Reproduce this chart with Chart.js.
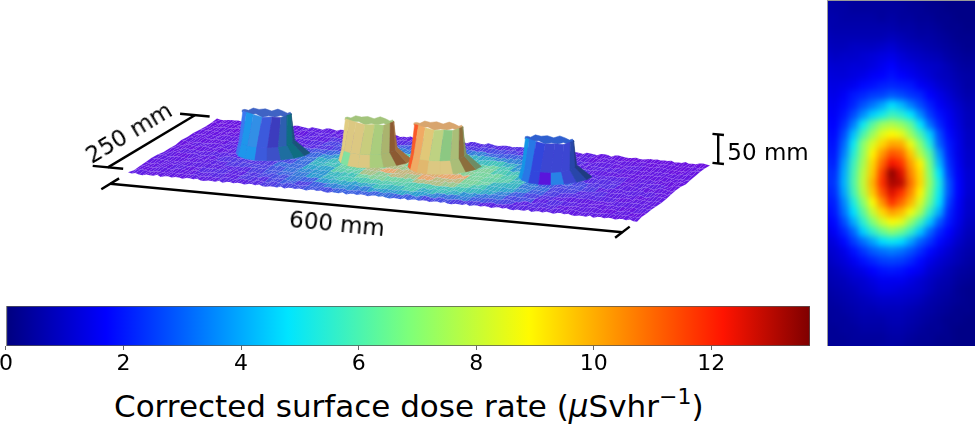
<!DOCTYPE html>
<html>
<head>
<meta charset="utf-8">
<script src="https://cdn.jsdelivr.net/npm/chart.js@4"></script>
<style>
  html, body { margin: 0; background: #fff; }
  #page { position: relative; width: 977px; height: 425px; overflow: hidden; font-family: "DejaVu Sans", sans-serif; color: #000; }
  canvas { position: absolute; display: block; }
  #heatBox { position: absolute; left: 827px; top: 0; width: 148px; height: 346px; overflow: hidden; border-left: 1px solid #999; border-top: 1px solid #999; box-sizing: border-box; }
  #heat { left: -20px; top: -20px; filter: blur(3.4px); }
  .note { position: absolute; white-space: nowrap; font-size: 23px; line-height: 1; transform: translate(-50%, -50%) rotate(var(--turn, 0deg)); }
  #title { position: absolute; left: 114px; top: 386px; font-size: 31px; line-height: 40px; white-space: nowrap; }
  #title sup { font-size: 22px; line-height: 0; vertical-align: 13px; }
</style>
</head>
<body>
<div id="page">
  <canvas id="surface" width="820" height="295" style="left:0;top:0"></canvas>
  <div class="note" style="left:129px;top:133px;--turn:-31deg">250 mm</div>
  <div class="note" style="left:337px;top:224px;--turn:5.5deg">600 mm</div>
  <div class="note" style="left:768px;top:152px">50 mm</div>
  <canvas id="colourbar" width="820" height="76" style="left:-2px;top:300px"></canvas>
  <div id="title">Corrected surface dose rate (<i>μ</i>Svhr<sup>−1</sup>)</div>
  <div id="heatBox"><canvas id="heat" width="187" height="385"></canvas></div>
</div>

<script>
// data ------------------------------------------------------------------

const colourbarTicks = [0, 2, 4, 6, 8, 10, 12];
const maxDose = 13.68;

// dose rate map, 35 rows along the 600 mm side, 15 columns along the 250 mm side
const doseRows = [
  [.5, .5, .4, .4, .4, .4, .4, .4, .3, .3, .2, .2, .1, .1, .1],
  [.6, .5, .5, .5, .5, .4, .5, .4, .4, .3, .3, .2, .2, .1, .1],
  [.6, .6, .6, .6, .6, .6, .6, .5, .5, .4, .4, .3, .2, .2, .1],
  [.7, .7, .7, .7, .7, .7, .8, .7, .6, .5, .5, .4, .3, .2, .2],
  [.8, .8, .9, .9, .9, 1, 1.1, .9, .8, .7, .6, .5, .4, .3, .2],
  [.9, 1, 1, 1.1, 1.2, 1.3, 1.4, 1.2, 1, .9, .8, .7, .5, .4, .3],
  [1.1, 1.1, 1.2, 1.2, 1.3, 1.5, 1.7, 1.4, 1.3, 1.1, 1, .9, .7, .5, .4],
  [1.2, 1.2, 1.3, 1.4, 1.6, 1.7, 1.9, 1.7, 1.5, 1.3, 1.1, .9, .8, .6, .5],
  [1.3, 1.4, 1.5, 1.8, 1.9, 2.1, 2.2, 2.1, 2, 1.6, 1.4, 1.1, .9, .7, .5],
  [1.4, 1.6, 2, 2.2, 2.5, 2.6, 2.9, 2.7, 2.4, 2.2, 1.7, 1.4, 1.1, .8, .6],
  [1.5, 1.8, 2.2, 2.8, 3.3, 3.9, 4.7, 4.2, 3.4, 2.7, 2.1, 1.6, 1.3, 1, .7],
  [1.6, 2, 2.7, 3.6, 4.5, 5.1, 5.8, 5.5, 4.8, 3.6, 2.5, 1.9, 1.5, 1.1, .8],
  [1.7, 2.3, 3.4, 5, 6.3, 7.3, 7.6, 7.2, 6.4, 4.8, 3.2, 2.2, 1.6, 1.2, .8],
  [1.8, 2.7, 4.3, 6, 7.3, 8.4, 8.9, 8.5, 7.3, 6, 4.5, 2.7, 1.8, 1.3, .9],
  [1.9, 3.1, 5, 7, 8.3, 9.4, 10.1, 10, 8.6, 7, 5.3, 3, 2, 1.4, .9],
  [2, 3.4, 5.4, 7.2, 9, 10.3, 11.3, 11, 9.6, 7.7, 6.2, 3.7, 2.1, 1.4, 1],
  [2.1, 3.8, 5.8, 7.5, 9.4, 11, 12.3, 11.8, 10.2, 9, 6.7, 4.2, 2.3, 1.5, 1],
  [2.3, 4, 6, 7.8, 9.6, 11.6, 13.5, 12.6, 10.6, 9.3, 7, 4.8, 2.5, 1.6, 1.1],
  [2.4, 4.1, 6.1, 7.9, 9.9, 11.8, 13.2, 13, 10.9, 9.4, 7.2, 5.2, 2.8, 1.7, 1.1],
  [2.3, 3.9, 5.9, 7.7, 9.6, 11.3, 12.6, 11.8, 10.5, 9, 6.9, 5, 2.8, 1.7, 1.1],
  [2.1, 3.5, 5.3, 7, 8.8, 10.4, 11.8, 11, 9.9, 8.3, 6.5, 4.7, 2.5, 1.6, 1],
  [2, 3.2, 4.7, 6.3, 8, 9.4, 10.2, 9.8, 8.7, 7.5, 5.6, 4, 2.2, 1.5, 1],
  [1.8, 2.7, 4, 5.5, 6.9, 8.1, 8.8, 8.5, 7.2, 5.9, 4.4, 2.9, 2, 1.4, .9],
  [1.6, 2.2, 3.1, 4.5, 5.6, 6.5, 7.1, 6.6, 5.7, 4.4, 3.1, 2.2, 1.7, 1.2, .8],
  [1.3, 1.8, 2.5, 3.2, 3.9, 4.7, 5, 4.7, 3.9, 3, 2.4, 1.8, 1.4, 1, .7],
  [1.1, 1.4, 1.9, 2.4, 2.9, 3.2, 3.4, 3.2, 2.8, 2.3, 1.8, 1.4, 1.1, .8, .6],
  [1, 1.2, 1.5, 1.9, 2.2, 2.5, 2.6, 2.5, 2.2, 1.8, 1.4, 1.1, .9, .7, .5],
  [.8, 1, 1.2, 1.4, 1.7, 1.9, 2, 1.9, 1.7, 1.5, 1.1, .9, .7, .5, .4],
  [.7, .8, 1, 1.1, 1.3, 1.5, 1.5, 1.5, 1.3, 1.1, .9, .7, .6, .4, .3],
  [.6, .7, .8, 1, 1.1, 1.3, 1.3, 1.2, 1.1, 1, .8, .6, .5, .3, .2],
  [.5, .6, .7, .8, .9, 1, 1, 1, .9, .8, .6, .5, .4, .3, .2],
  [.4, .5, .6, .7, .7, .8, .8, .8, .7, .6, .5, .4, .3, .2, .2],
  [.4, .4, .5, .6, .6, .6, .7, .7, .6, .5, .4, .3, .2, .2, .1],
  [.3, .4, .4, .5, .5, .5, .6, .6, .5, .4, .3, .3, .2, .1, .1],
  [.3, .3, .4, .4, .4, .4, .5, .5, .4, .3, .3, .2, .2, .1, .1],
];

// the four blocks on the surface, in mm
const blockAlong = [109, 228, 311, 444];
const blockAcross = [135, 145, 145, 145];
const blockHeight = [68, 67, 69, 63];
const rimRipple = [1.5, -1, 2, -1.5, .5, 2.5, -2, 1, -.5, 2, -1.5, 1];
const surfaceRipple = [1.2, -.8, .5, -1.4, .9, -.3, 1.6, -1.1, .2, -.6, 1.3, -1.5, .7, -.2, 1, -.9, .4];

// colours ---------------------------------------------------------------

const jetValues = [0, 1.7, 4.8, 6.85, 8.9, 12.2, 13.68];
const jetColours = [[0, 0, 127], [0, 0, 255], [0, 229, 255], [125, 255, 122], [255, 250, 0], [255, 20, 0], [127, 0, 0]];
const surfaceValues = [0, 1, 2.2, 4, 6.5, 9, 12.5];
const surfaceColours = [[106, 16, 224], [92, 36, 228], [62, 96, 226], [44, 160, 208], [70, 200, 184], [120, 216, 160], [232, 170, 110]];

const blockCaps = ["#3f63c4", "#a3c47c", "#d8a56e", "#2f5fcf"];
const blockWalls = [
  ["#3c78f0", "#1e96eb", "#328fe6", "#3c5adc", "#3c3cbe", "#2d5fb0", "#0f6e82", "#19557a"],
  ["#e1cd82", "#dcc882", "#dcc882", "#c8cd7d", "#aacd7d", "#aab46e", "#8c5a32", "#a06e3c"],
  ["#fa5a28", "#f0aa64", "#e1c878", "#bed282", "#8cc882", "#aabe78", "#8c6e3c", "#829660"],
  ["#1496e6", "#2878e6", "#3246dc", "#3c46d2", "#3c46d2", "#3c46d2", "#2846aa", "#1e3c82"],
];
const blockFeet = [
  ["#3c78f0", "#1e96eb", "#1e96eb", "#3c5adc", "#3c50c8", "#1e6ea0", "#0f6e82", "#19557a"],
  ["#e1cd82", "#82e1a0", "#dcc882", "#dcc882", "#aacd7d", "#aab46e", "#8c5a32", "#a06e3c"],
  ["#fa5a28", "#f0aa64", "#e1b86e", "#dcc882", "#dcc882", "#aabe78", "#8c6e3c", "#6e8c64"],
  ["#1496e6", "#2878e6", "#3246dc", "#5a14dc", "#2882e6", "#3c46d2", "#2846aa", "#1e3c82"],
];

// helpers ---------------------------------------------------------------

function shade(values, colours, v) {
  let i = 0;
  while (i < values.length - 2 && v > values[i + 1]) i++;
  const t = Math.min(1, Math.max(0, (v - values[i]) / (values[i + 1] - values[i])));
  const c = colours[i].map((a, k) => Math.round(a + (colours[i + 1][k] - a) * t));
  return "rgb(" + c.join(",") + ")";
}

// corners of the 600 x 250 mm plate as they sit in the picture
const FL = [128, 173], FR = [637, 221], BL = [217, 119], BR = [710, 165];
const Z_SCALE = 0.58;

function project(along, across, z) {
  const u = along / 600, v = across / 250;
  const blend = (k) => (1 - u) * (1 - v) * FL[k] + u * (1 - v) * FR[k] + (1 - u) * v * BL[k] + u * v * BR[k];
  return { x: blend(0), y: blend(1) - z * Z_SCALE };
}

function polygon(points, colour, edge, edgeWidth) {
  return {
    data: points.concat(points[0]),
    showLine: true,
    fill: "shape",
    backgroundColor: colour,
    borderColor: edge || colour,
    borderWidth: edgeWidth === undefined ? 0.5 : edgeWidth,
    pointRadius: 0,
  };
}

function guide(a, b) {
  return { data: [a, b], showLine: true, fill: false, borderColor: "#000", borderWidth: 2.4, pointRadius: 0 };
}

// surface ---------------------------------------------------------------

const SPLIT = 4;
const paint = [];

function ripple(i, j) {
  return surfaceRipple[(i * 5 + j * 11 + (i * j) % 7) % surfaceRipple.length];
}

for (let j = doseRows[0].length - 1; j >= 0; j--) {
  for (let i = 0; i < doseRows.length * SPLIT; i++) {
    const row = Math.floor(i / SPLIT);
    const stepU = 600 / (doseRows.length * SPLIT), stepV = 250 / doseRows[0].length;
    // patchy colour, the plate in the picture is blocky and not a clean gradient
    const patch = ripple(row * 3, j) * (0.12 + doseRows[row][j] * 0.08);
    const c = shade(surfaceValues, surfaceColours, doseRows[row][j] + patch);
    paint.push(polygon([
      project(i * stepU, j * stepV, ripple(i, j)),
      project((i + 1) * stepU, j * stepV, ripple(i + 1, j)),
      project((i + 1) * stepU, (j + 1) * stepV, ripple(i + 1, j + 1)),
      project(i * stepU, (j + 1) * stepV, ripple(i, j + 1)),
    ], c, "rgba(205,180,255,0.1)", 0.6));
  }
}

blockAlong.forEach((along, b) => {
  const across = blockAcross[b], h = blockHeight[b], walls = blockWalls[b], feet = blockFeet[b];
  const ring = (rAlong, rAcross, z, a, bump) => {
    const t = a * Math.PI / 180;
    return project(along + rAlong * Math.cos(t), across + rAcross * Math.sin(t), z + (bump || 0));
  };
  const cap = [];
  for (let k = 0; k < 24; k++) cap.push(ring(29, 14, h, k * 15, rimRipple[k % rimRipple.length]));
  paint.push(polygon(cap, blockCaps[b]));
  const from = 203, step = 180 / walls.length;
  // the foot runs out further on the right hand side of each block
  const footR = (k) => 34 + 16 * Math.pow(k / walls.length, 3);
  walls.forEach((colour, k) => {
    const a0 = from + k * step, a1 = a0 + step;
    const bump0 = rimRipple[k * 2 % rimRipple.length], bump1 = rimRipple[(k + 1) * 2 % rimRipple.length];
    paint.push(polygon([
      ring(footR(k), 36, 0, a0), ring(footR(k + 1), 36, 0, a1),
      ring(31, 30, h * 0.3, a1), ring(31, 30, h * 0.3, a0),
    ], feet[k]));
    paint.push(polygon([
      ring(31, 30, h * 0.3, a0), ring(31, 30, h * 0.3, a1),
      ring(29, 14, h, a1, bump1), ring(29, 14, h, a0, bump0),
    ], colour));
  });
});

// dimension marks
paint.push(guide(project(0, -50, 0), project(600, -50, 0)));
paint.push(guide(project(0, -75, 0), project(0, -25, 0)));
paint.push(guide(project(600, -75, 0), project(600, -25, 0)));
paint.push(guide(project(-30, 15, 0), project(-30, 257, 0)));
paint.push(guide(project(-48, 15, 0), project(-12, 15, 0)));
paint.push(guide(project(-48, 257, 0), project(-12, 257, 0)));
paint.push(guide(project(610, 250, 4), project(610, 250, 54)));
paint.push(guide(project(603, 250, 4), project(617, 250, 4)));
paint.push(guide(project(603, 250, 54), project(617, 250, 54)));

const hidden = { display: false };

new Chart(document.getElementById("surface"), {
  type: "scatter",
  // chart.js paints the first dataset last
  data: { datasets: paint.reverse() },
  options: {
    responsive: false,
    animation: false,
    events: [],
    parsing: false,
    plugins: { legend: hidden, tooltip: { enabled: false } },
    scales: {
      x: { type: "linear", display: false, min: 0, max: 820 },
      y: { type: "linear", display: false, min: 0, max: 295, reverse: true },
    },
  },
});

// colourbar -------------------------------------------------------------

new Chart(document.getElementById("colourbar"), {
  type: "bar",
  data: {
    labels: ["dose"],
    datasets: [{
      data: [maxDose],
      barPercentage: 1,
      categoryPercentage: 1,
      borderWidth: 1,
      borderColor: "#555",
      borderSkipped: false,
      backgroundColor: (ctx) => {
        const area = ctx.chart.chartArea;
        if (!area) return "#000";
        const g = ctx.chart.ctx.createLinearGradient(area.left, 0, area.right, 0);
        jetValues.forEach((v) => g.addColorStop(v / maxDose, shade(jetValues, jetColours, v)));
        return g;
      },
    }],
  },
  options: {
    indexAxis: "y",
    responsive: false,
    animation: false,
    events: [],
    layout: { padding: { left: 7, right: 8, top: 6, bottom: 0 } },
    plugins: { legend: hidden, tooltip: { enabled: false } },
    scales: {
      y: { display: false },
      x: {
        type: "linear",
        min: 0,
        max: maxDose,
        afterBuildTicks: (scale) => { scale.ticks = colourbarTicks.map((value) => ({ value })); },
        afterFit: (scale) => { scale.height = 30; },
        grid: { drawOnChartArea: false, tickLength: 4, color: "#666" },
        border: { display: false },
        ticks: { color: "#000", padding: 1, maxRotation: 0, font: { family: "DejaVu Sans", size: 22 } },
      },
    },
  },
});

// dose map --------------------------------------------------------------

const cells = [];
const cellColours = [];
const edgeSizes = [];
doseRows.forEach((row, r) => row.forEach((dose, c) => {
  cells.push({ x: c + 0.5, y: r + 0.5 });
  cellColours.push(shade(jetValues, jetColours, dose));
  const onEdge = r === 0 || c === 0 || r === doseRows.length - 1 || c === row.length - 1;
  edgeSizes.push(onEdge ? 22 : 0);
}));

new Chart(document.getElementById("heat"), {
  type: "scatter",
  data: {
    datasets: [
      { data: cells, pointStyle: "rect", pointRadius: 7.4, pointBorderWidth: 0, pointBackgroundColor: cellColours, clip: false },
      // blown up edge cells so the blur has colour to work with past the border
      { data: cells, pointStyle: "rect", pointRadius: edgeSizes, pointBorderWidth: 0, pointBackgroundColor: cellColours, clip: false },
    ],
  },
  options: {
    responsive: false,
    animation: false,
    events: [],
    layout: { padding: 20 },
    plugins: { legend: hidden, tooltip: { enabled: false } },
    scales: {
      x: { type: "linear", display: false, min: 0, max: doseRows[0].length },
      y: { type: "linear", display: false, min: 0, max: doseRows.length, reverse: true },
    },
  },
});
</script>
</body>
</html>
